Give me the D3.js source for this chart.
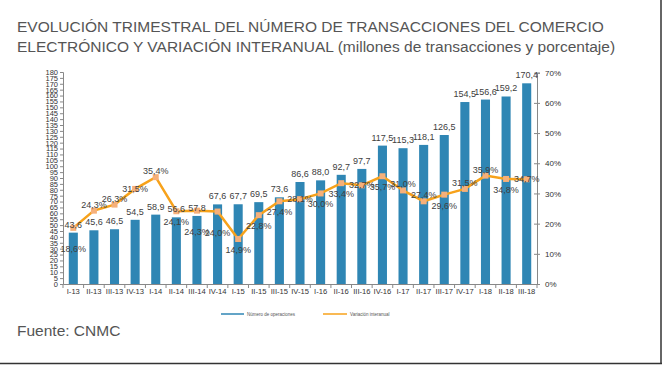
<!DOCTYPE html>
<html><head><meta charset="utf-8">
<script src="https://cdn.jsdelivr.net/npm/d3@7"></script>
<style>body{margin:0;background:#fff;}svg{display:block;font-family:"Liberation Sans",Arial,sans-serif;}</style>
</head><body><svg id="c" width="662" height="365"></svg>
<script>
const categories = ["I-13","II-13","III-13","IV-13","I-14","II-14","III-14","IV-14","I-15","II-15","III-15","IV-15","I-16","II-16","III-16","IV-16","I-17","II-17","III-17","IV-17","I-18","II-18","III-18"];
const transacciones = [43.6,45.6,46.5,54.5,58.9,56.6,57.8,67.6,67.7,69.5,73.6,86.6,88.0,92.7,97.7,117.5,115.3,118.1,126.5,154.5,156.6,159.2,170.4];
const variacion = [18.6,24.3,26.3,31.5,35.4,24.1,24.3,24.0,14.9,22.8,27.4,28.1,30.0,33.4,32.7,35.7,31.0,27.4,29.6,31.5,35.9,34.8,34.7];
const variacionLabelPos = ["b2","a","a","c","a","b","b2","b2","b","b","b","c","b","b","c","b","a","a","b","a","a","b","c"];
const leftTicks = d3.range(0,181,5);
const rightTicks = [0,10,20,30,40,50,60,70];
const seriesNames = ["Número de operaciones","Variación interanual"];

const svg = d3.select("#c");
const L = 63, R = 537, T = 72, B = 284;
const x = d3.scaleBand().domain(categories).range([L,R]).paddingInner(0.56).paddingOuter(0.28);
const xb = d3.scaleBand().domain(categories).range([L,R]);
const y = d3.scaleLinear().domain([0,180]).range([B,T]);
const y2 = d3.scaleLinear().domain([0,70]).range([B,T+0.7]);
const fmt = d3.format(".1f");
const comma = v => fmt(v).replace(".",",");

// frame edges
svg.append("line").attr("x1",661).attr("x2",661).attr("y1",0).attr("y2",364).attr("stroke","#333").attr("stroke-width",1.5);
svg.append("line").attr("x1",0).attr("x2",662).attr("y1",363.5).attr("y2",363.5).attr("stroke","#333").attr("stroke-width",1.5);

// title
const title = svg.append("text").attr("fill","#555").attr("font-size",15.5);
title.append("tspan").attr("x",17).attr("y",32).text("EVOLUCIÓN TRIMESTRAL DEL NÚMERO DE TRANSACCIONES DEL COMERCIO");
title.append("tspan").attr("x",17).attr("y",52).text("ELECTRÓNICO Y VARIACIÓN INTERANUAL (millones de transacciones y porcentaje)");

// bars
svg.append("g").selectAll("rect").data(categories).join("rect")
  .attr("x",d=>x(d)).attr("width",x.bandwidth())
  .attr("y",(d,i)=>y(transacciones[i])).attr("height",(d,i)=>B-y(transacciones[i]))
  .attr("fill","#2f86b4");

// axes
const axL = svg.append("g").attr("transform",`translate(${L},0)`)
  .call(d3.axisLeft(y).tickValues(leftTicks).tickSize(3).tickPadding(2));
axL.selectAll("text").attr("font-size",7.5).attr("fill","#333").attr("font-family","Liberation Sans, Arial");
const axR = svg.append("g").attr("transform",`translate(${R},0)`)
  .call(d3.axisRight(y2).tickValues(rightTicks).tickSize(3).tickPadding(5).tickFormat(d=>d+"%"));
axR.selectAll(".tick line").attr("x1",-3);
axR.selectAll("text").attr("font-size",8).attr("fill","#333").attr("font-family","Liberation Sans, Arial");
const axB = svg.append("g").attr("transform",`translate(0,${B})`)
  .call(d3.axisBottom(xb).tickSize(0).tickPadding(5));
axB.selectAll("text").attr("font-size",7.6).attr("fill","#333").attr("font-family","Liberation Sans, Arial");
svg.append("g").selectAll("line").data(categories.concat(["end"])).join("line")
  .attr("x1",(d,i)=>L+xb.step()*i).attr("x2",(d,i)=>L+xb.step()*i)
  .attr("y1",B).attr("y2",B+4).attr("stroke","#888");
[axL,axR,axB].forEach(a=>{a.selectAll("path.domain").attr("stroke","#888");a.selectAll(".tick line").attr("stroke","#888");});

// line
const cx = d => xb(d)+xb.bandwidth()/2;
svg.append("path").datum(categories)
  .attr("d",d3.line().x(cx).y((d,i)=>y2(variacion[i])))
  .attr("fill","none").attr("stroke","#f7a21b").attr("stroke-width",2.5);
svg.append("g").selectAll("rect").data(categories).join("rect")
  .attr("x",d=>cx(d)-3).attr("y",(d,i)=>y2(variacion[i])-3).attr("width",6).attr("height",6)
  .attr("fill","#f6b07a");

// bar labels
svg.append("g").selectAll("text").data(categories).join("text")
  .attr("x",cx).attr("y",(d,i)=>y(transacciones[i])-5)
  .attr("text-anchor","middle").attr("font-size",9).attr("fill","#404040")
  .text((d,i)=>comma(transacciones[i]));

// line labels
const off = {a:-6,b:11,b2:21,c:0};
svg.append("g").selectAll("text").data(categories).join("text")
  .attr("x",cx).attr("y",(d,i)=>y2(variacion[i])+off[variacionLabelPos[i]]+3)
  .attr("text-anchor","middle").attr("font-size",9).attr("fill","#404040")
  .text((d,i)=>comma(variacion[i])+"%");

// legend
const lg = svg.append("g").attr("font-size",4.5).attr("fill","#555");
lg.append("line").attr("x1",221).attr("x2",244).attr("y1",314).attr("y2",314).attr("stroke","#2f86b4").attr("stroke-width",1.5);
lg.append("text").attr("x",247).attr("y",315.5).text(seriesNames[0]);
lg.append("line").attr("x1",323).attr("x2",347).attr("y1",314).attr("y2",314).attr("stroke","#f7a21b").attr("stroke-width",1.5);
lg.append("text").attr("x",350).attr("y",315.5).text(seriesNames[1]);

// source
svg.append("text").attr("x",17).attr("y",336).attr("font-size",15.5).attr("fill","#555").text("Fuente: CNMC");
</script></body></html>
